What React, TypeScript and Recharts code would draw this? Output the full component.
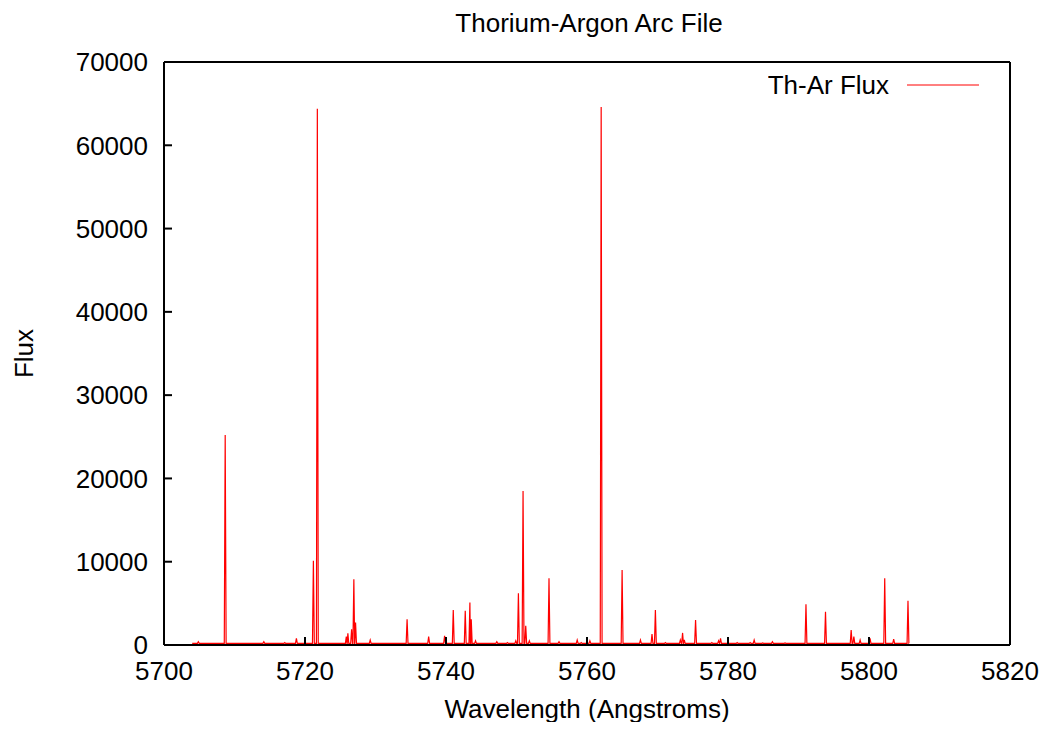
/**
 * Thorium-Argon arc spectrum — flux vs wavelength, gnuplot look
 * (inward ticks on all four sides, boxed plot, legend top-right).
 */

import { Legend, Line, LineChart, XAxis, YAxis } from 'recharts';

// emission line centres (Angstroms) and peak flux
const lineWavelengths = [
  5704.87, 5708.68, 5710.3, 5714.16, 5717.13, 5718.78, 5721.19, 5721.75,
  5725.86, 5726.08, 5726.61, 5726.93, 5727.17, 5729.25, 5731.51, 5734.48,
  5737.54, 5739.8, 5741.03, 5742.73, 5743.39, 5743.58, 5744.19, 5747.21,
  5748.71, 5749.9, 5750.27, 5750.93, 5751.31, 5751.82, 5754.61, 5756.03,
  5758.61, 5759.18, 5760.41, 5762.01, 5764.98, 5767.58, 5769.22, 5769.7,
  5771.12, 5773.24, 5773.56, 5773.8, 5775.4, 5777.71, 5778.66, 5778.94,
  5781.3, 5783.14, 5783.71, 5784.92, 5786.3, 5788.09, 5791.06, 5793.13,
  5793.83, 5797.47, 5797.85, 5798.74, 5800.15, 5802.23, 5803.5, 5805.53,
];
const lineFluxes = [
  400, 25200, 200, 400, 300, 800, 10100, 64400,
  1000, 1400, 1900, 7900, 2700, 600, 200, 3100,
  1000, 1100, 4200, 4100, 5100, 3100, 500, 400,
  300, 500, 6200, 18500, 2300, 500, 8000, 400,
  600, 300, 500, 64600, 9000, 600, 1300, 4200,
  300, 600, 1450, 600, 3000, 300, 500, 800,
  300, 300, 600, 250, 400, 250, 4900, 200,
  4000, 1800, 1000, 600, 800, 8000, 700, 5300,
];

const baselineFlux = 200;
const spectrumStart = 5704.0;
const spectrumEnd = 5805.68;
const lineHalfWidth = 0.13;

const xTicks = [5700, 5720, 5740, 5760, 5780, 5800, 5820];
const yTicks = [0, 10000, 20000, 30000, 40000, 50000, 60000, 70000];

const chartTitle = 'Thorium-Argon Arc File';
const seriesName = 'Th-Ar Flux';

type SpecPoint = { w: number; flux: number };

const spectrum: SpecPoint[] = (() => {
  const pts: SpecPoint[] = [{ w: spectrumStart, flux: baselineFlux }];
  lineWavelengths.forEach((w, i) => {
    pts.push({ w: w - lineHalfWidth, flux: baselineFlux });
    pts.push({ w, flux: lineFluxes[i] });
    if (w + lineHalfWidth < spectrumEnd) pts.push({ w: w + lineHalfWidth, flux: baselineFlux });
  });
  pts.push({ w: spectrumEnd, flux: baselineFlux });
  return pts.sort((a, b) => a.w - b.w);
})();

const FONT = '"Liberation Sans", Arial, Helvetica, sans-serif';
const FS = 26;
const tickStyle = { fontSize: FS, fill: '#000', fontFamily: FONT };
const axisLine = { stroke: '#000', strokeWidth: 2 };

function TitleLabel(props: any) {
  const vb = props.viewBox || {};
  const cx = vb.x + vb.width / 2 + 2;
  return (
    <text x={cx} y={24} textAnchor="middle" fontSize={FS} fontFamily={FONT} fill="#000">
      {chartTitle}
    </text>
  );
}

function FluxLabel(props: any) {
  const vb = props.viewBox || {};
  const cy = vb.y + vb.height / 2;
  return (
    <text
      x={25}
      y={cy}
      transform={`rotate(-90 25 ${cy})`}
      textAnchor="middle"
      fontSize={FS}
      fontFamily={FONT}
      fill="#000"
    >
      Flux
    </text>
  );
}

function KeyBox(props: any) {
  const name = props.payload?.[0]?.value ?? seriesName;
  return (
    <svg width={220} height={40}>
      <text x={121} y={26} textAnchor="end" fontSize={FS} fontFamily={FONT} fill="#000">
        {name}
      </text>
      <line x1={139} x2={211} y1={17} y2={17} stroke="#ff0000" strokeWidth={1} />
    </svg>
  );
}

export default function App() {
  return (
    <div style={{ width: 1036, height: 722, marginBottom: -8 }}>
      <LineChart
        width={1036}
        height={722}
        data={spectrum}
        margin={{ top: 53, right: 33, bottom: 8, left: 0 }}
      >
        <XAxis
          dataKey="w"
          type="number"
          domain={[5700, 5820]}
          ticks={xTicks}
          allowDataOverflow
          height={77}
          tick={tickStyle}
          tickSize={-8}
          tickMargin={25}
          tickLine={axisLine}
          axisLine={axisLine}
          label={{
            value: 'Wavelength (Angstroms)',
            position: 'insideBottom',
            offset: 4,
            fontSize: FS,
            fontFamily: FONT,
            fill: '#000',
          }}
        />
        <XAxis
          xAxisId="top"
          orientation="top"
          type="number"
          domain={[5700, 5820]}
          ticks={xTicks}
          allowDataOverflow
          height={1}
          tick={false}
          tickSize={-8}
          tickLine={axisLine}
          axisLine={axisLine}
          label={<TitleLabel />}
        />
        <YAxis
          type="number"
          domain={[0, 70000]}
          ticks={yTicks}
          allowDataOverflow
          width={156}
          tick={tickStyle}
          tickSize={-8}
          tickMargin={24}
          tickLine={axisLine}
          axisLine={axisLine}
          label={<FluxLabel />}
        />
        <YAxis
          yAxisId="right"
          orientation="right"
          type="number"
          domain={[0, 70000]}
          ticks={yTicks}
          allowDataOverflow
          width={1}
          tick={false}
          tickSize={-8}
          tickLine={axisLine}
          axisLine={axisLine}
        />
        <Legend
          layout="horizontal"
          align="center"
          verticalAlign="middle"
          content={<KeyBox />}
          wrapperStyle={{ left: 760, top: 60, width: 220, height: 40 }}
        />
        <Line
          type="linear"
          dataKey="flux"
          name={seriesName}
          stroke="#ff0000"
          strokeWidth={1.2}
          dot={false}
          activeDot={false}
          isAnimationActive={false}
        />
      </LineChart>
    </div>
  );
}
